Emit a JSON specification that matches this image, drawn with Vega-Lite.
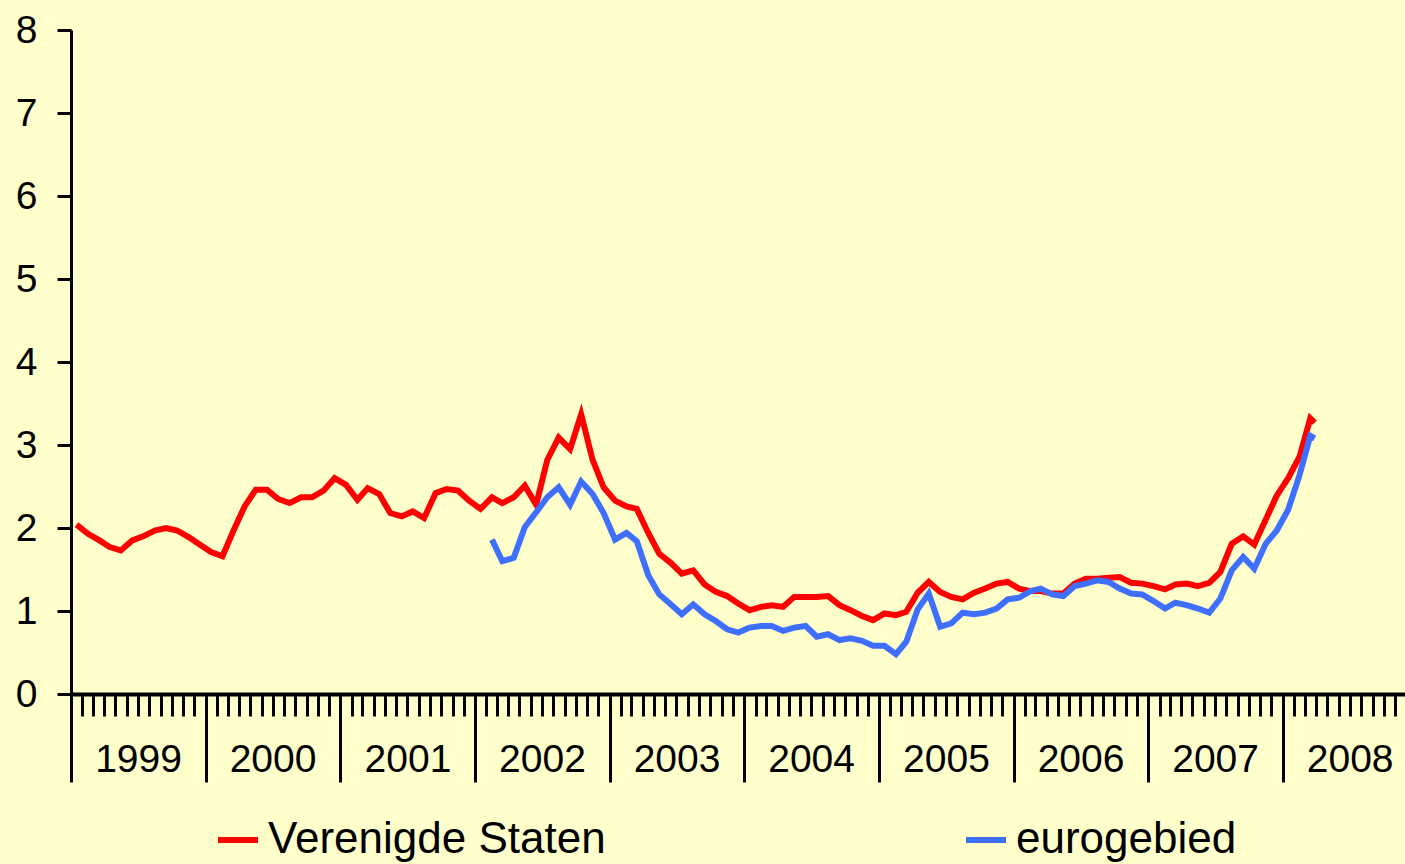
{
  "$schema": "https://vega.github.io/schema/vega-lite/v6.json",
  "width": 1334,
  "height": 664,
  "autosize": {"type": "none"},
  "padding": {"left": 71, "top": 30, "right": 0, "bottom": 170},
  "background": "#FFFFCC",
  "config": {"view": {"stroke": null}, "font": "Liberation Sans", "axis": {"grid": false}},
  "data": {"values": [
    {"date": "1999-01-16", "us": 2.04}, {"date": "1999-02-16", "us": 1.93}, {"date": "1999-03-16", "us": 1.86}, {"date": "1999-04-16", "us": 1.77},
    {"date": "1999-05-16", "us": 1.73}, {"date": "1999-06-16", "us": 1.85}, {"date": "1999-07-16", "us": 1.90}, {"date": "1999-08-16", "us": 1.97},
    {"date": "1999-09-16", "us": 2.00}, {"date": "1999-10-16", "us": 1.97}, {"date": "1999-11-16", "us": 1.89}, {"date": "1999-12-16", "us": 1.80},
    {"date": "2000-01-16", "us": 1.71}, {"date": "2000-02-16", "us": 1.66}, {"date": "2000-03-16", "us": 1.96}, {"date": "2000-04-16", "us": 2.26},
    {"date": "2000-05-16", "us": 2.46}, {"date": "2000-06-16", "us": 2.46}, {"date": "2000-07-16", "us": 2.35}, {"date": "2000-08-16", "us": 2.30},
    {"date": "2000-09-16", "us": 2.37}, {"date": "2000-10-16", "us": 2.37}, {"date": "2000-11-16", "us": 2.45}, {"date": "2000-12-16", "us": 2.60},
    {"date": "2001-01-16", "us": 2.52}, {"date": "2001-02-16", "us": 2.34}, {"date": "2001-03-16", "us": 2.48}, {"date": "2001-04-16", "us": 2.41},
    {"date": "2001-05-16", "us": 2.18}, {"date": "2001-06-16", "us": 2.14}, {"date": "2001-07-16", "us": 2.20}, {"date": "2001-08-16", "us": 2.12},
    {"date": "2001-09-16", "us": 2.42}, {"date": "2001-10-16", "us": 2.47}, {"date": "2001-11-16", "us": 2.45}, {"date": "2001-12-16", "us": 2.33},
    {"date": "2002-01-16", "us": 2.23}, {"date": "2002-02-16", "us": 2.37, "eu": 1.86}, {"date": "2002-03-16", "us": 2.30, "eu": 1.60}, {"date": "2002-04-16", "us": 2.37, "eu": 1.64},
    {"date": "2002-05-16", "us": 2.51, "eu": 2.01}, {"date": "2002-06-16", "us": 2.28, "eu": 2.19}, {"date": "2002-07-16", "us": 2.82, "eu": 2.37}, {"date": "2002-08-16", "us": 3.09, "eu": 2.49},
    {"date": "2002-09-16", "us": 2.95, "eu": 2.28}, {"date": "2002-10-16", "us": 3.37, "eu": 2.56}, {"date": "2002-11-16", "us": 2.82, "eu": 2.41}, {"date": "2002-12-16", "us": 2.49, "eu": 2.18},
    {"date": "2003-01-16", "us": 2.33, "eu": 1.86}, {"date": "2003-02-16", "us": 2.26, "eu": 1.94}, {"date": "2003-03-16", "us": 2.23, "eu": 1.84}, {"date": "2003-04-16", "us": 1.94, "eu": 1.43},
    {"date": "2003-05-16", "us": 1.69, "eu": 1.20}, {"date": "2003-06-16", "us": 1.58, "eu": 1.08}, {"date": "2003-07-16", "us": 1.45, "eu": 0.96}, {"date": "2003-08-16", "us": 1.49, "eu": 1.08},
    {"date": "2003-09-16", "us": 1.32, "eu": 0.96}, {"date": "2003-10-16", "us": 1.23, "eu": 0.88}, {"date": "2003-11-16", "us": 1.18, "eu": 0.78}, {"date": "2003-12-16", "us": 1.09, "eu": 0.74},
    {"date": "2004-01-16", "us": 1.01, "eu": 0.80}, {"date": "2004-02-16", "us": 1.05, "eu": 0.82}, {"date": "2004-03-16", "us": 1.07, "eu": 0.82}, {"date": "2004-04-16", "us": 1.05, "eu": 0.76},
    {"date": "2004-05-16", "us": 1.17, "eu": 0.80}, {"date": "2004-06-16", "us": 1.17, "eu": 0.82}, {"date": "2004-07-16", "us": 1.17, "eu": 0.69}, {"date": "2004-08-16", "us": 1.18, "eu": 0.72},
    {"date": "2004-09-16", "us": 1.07, "eu": 0.65}, {"date": "2004-10-16", "us": 1.01, "eu": 0.67}, {"date": "2004-11-16", "us": 0.94, "eu": 0.64}, {"date": "2004-12-16", "us": 0.89, "eu": 0.58},
    {"date": "2005-01-16", "us": 0.97, "eu": 0.58}, {"date": "2005-02-16", "us": 0.95, "eu": 0.48}, {"date": "2005-03-16", "us": 0.99, "eu": 0.63}, {"date": "2005-04-16", "us": 1.22, "eu": 1.02},
    {"date": "2005-05-16", "us": 1.35, "eu": 1.21}, {"date": "2005-06-16", "us": 1.23, "eu": 0.81}, {"date": "2005-07-16", "us": 1.17, "eu": 0.85}, {"date": "2005-08-16", "us": 1.14, "eu": 0.98},
    {"date": "2005-09-16", "us": 1.22, "eu": 0.96}, {"date": "2005-10-16", "us": 1.27, "eu": 0.98}, {"date": "2005-11-16", "us": 1.33, "eu": 1.03}, {"date": "2005-12-16", "us": 1.35, "eu": 1.14},
    {"date": "2006-01-16", "us": 1.27, "eu": 1.16}, {"date": "2006-02-16", "us": 1.24, "eu": 1.24}, {"date": "2006-03-16", "us": 1.24, "eu": 1.27}, {"date": "2006-04-16", "us": 1.21, "eu": 1.20},
    {"date": "2006-05-16", "us": 1.21, "eu": 1.18}, {"date": "2006-06-16", "us": 1.33, "eu": 1.30}, {"date": "2006-07-16", "us": 1.39, "eu": 1.33}, {"date": "2006-08-16", "us": 1.39, "eu": 1.37},
    {"date": "2006-09-16", "us": 1.40, "eu": 1.35}, {"date": "2006-10-16", "us": 1.41, "eu": 1.27}, {"date": "2006-11-16", "us": 1.34, "eu": 1.21}, {"date": "2006-12-16", "us": 1.33, "eu": 1.20},
    {"date": "2007-01-16", "us": 1.30, "eu": 1.12}, {"date": "2007-02-16", "us": 1.26, "eu": 1.03}, {"date": "2007-03-16", "us": 1.32, "eu": 1.10}, {"date": "2007-04-16", "us": 1.33, "eu": 1.07},
    {"date": "2007-05-16", "us": 1.30, "eu": 1.03}, {"date": "2007-06-16", "us": 1.34, "eu": 0.98}, {"date": "2007-07-16", "us": 1.47, "eu": 1.15}, {"date": "2007-08-16", "us": 1.81, "eu": 1.49},
    {"date": "2007-09-16", "us": 1.90, "eu": 1.65}, {"date": "2007-10-16", "us": 1.80, "eu": 1.51}, {"date": "2007-11-16", "us": 2.10, "eu": 1.81}, {"date": "2007-12-16", "us": 2.39, "eu": 1.97},
    {"date": "2008-01-16", "us": 2.60, "eu": 2.22}, {"date": "2008-02-16", "us": 2.86, "eu": 2.64}, {"date": "2008-03-16", "us": 3.32, "eu": 3.11}, {"date": "2008-03-28", "us": 3.27, "eu": 3.08}
  ]},
  "layer": [
    {
      "mark": {"type": "line", "strokeWidth": 6},
      "encoding": {
        "x": {
          "field": "date", "type": "temporal",
          "scale": {"type": "utc", "domain": [{"year": 1999, "month": 1, "date": 1, "utc": true}, {"year": 2008, "month": 11, "date": 28, "utc": true}]},
          "axis": {"orient": "bottom", "title": null, "labels": false, "tickCount": {"interval": "month", "step": 1}, "tickSize": 22, "tickWidth": 3, "tickColor": "black", "domain": true, "domainColor": "black", "domainWidth": 4, "grid": false}
        },
        "y": {
          "field": "us", "type": "quantitative",
          "scale": {"domain": [0, 8], "nice": false},
          "axis": {"title": null, "values": [0, 1, 2, 3, 4, 5, 6, 7, 8], "tickSize": 14, "tickWidth": 3, "tickColor": "black", "domainColor": "black", "domainWidth": 3, "labelFontSize": 39, "labelPadding": 20, "labelColor": "black", "labelFont": "Liberation Sans", "grid": false}
        },
        "color": {
          "datum": "Verenigde Staten",
          "scale": {"domain": ["Verenigde Staten", "eurogebied"], "range": ["#FF0000", "#3F6FFF"]},
          "legend": {"title": null, "orient": "none", "legendX": 144, "legendY": 787, "direction": "horizontal", "padding": 0, "symbolType": "stroke", "symbolStrokeWidth": 6, "symbolSize": 1600, "labelFontSize": 44, "labelFont": "Liberation Sans", "labelColor": "black", "labelOffset": 7, "labelLimit": 0, "columnPadding": 348}
        }
      }
    },
    {
      "mark": {"type": "line", "strokeWidth": 6},
      "encoding": {
        "x": {
          "field": "date", "type": "temporal",
          "scale": {"type": "utc", "domain": [{"year": 1999, "month": 1, "date": 1, "utc": true}, {"year": 2008, "month": 11, "date": 28, "utc": true}]},
          "axis": {"orient": "bottom", "title": null, "tickCount": {"interval": "year", "step": 1}, "format": "%Y", "tickSize": 88, "tickWidth": 3, "tickColor": "black", "domain": false, "labelFontSize": 39, "labelFont": "Liberation Sans", "labelColor": "black", "labelPadding": -22.5, "labelBaseline": "middle", "labelAlign": "center", "labelOffset": 67, "labelOverlap": false, "labelBound": false, "labelFlush": false, "grid": false}
        },
        "y": {
          "field": "eu", "type": "quantitative",
          "scale": {"domain": [0, 8], "nice": false},
          "axis": {"title": null, "values": [0, 1, 2, 3, 4, 5, 6, 7, 8], "tickSize": 14, "tickWidth": 3, "tickColor": "black", "domainColor": "black", "domainWidth": 3, "labelFontSize": 39, "labelPadding": 20, "labelColor": "black", "labelFont": "Liberation Sans", "grid": false}
        },
        "color": {"datum": "eurogebied"}
      }
    }
  ],
  "resolve": {"axis": {"x": "independent"}}
}
